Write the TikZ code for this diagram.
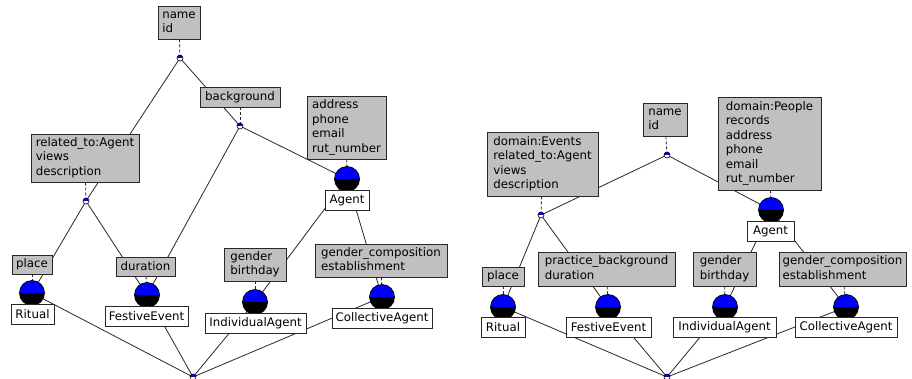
\documentclass[tikz,border=0pt]{standalone}
\usepackage{fontspec}
\newfontfamily\lfont{DejaVu Sans}
\usetikzlibrary{backgrounds}
\definecolor{attrgrey}{RGB}{192,192,192}
\definecolor{edgegrey}{RGB}{40,40,40}
\newcommand\attrlines[1]{\begin{tabular}{@{}l@{}}#1\end{tabular}}
\begin{document}
\begin{tikzpicture}[x=1pt,y=-1pt,
  txt/.style={font={\lfont\fontsize{11.8}{14.5}\selectfont}, text=black},
  attr/.style={txt, draw=edgegrey, fill=attrgrey, line width=0.8pt, inner sep=1pt},
  objl/.style={txt, draw=edgegrey, fill=white, line width=0.8pt, inner sep=1pt, minimum height=20pt},
  bigc/.style={circle, draw=black, line width=0.8pt, minimum size=25pt, inner sep=0pt,
    path picture={\fill[blue] (path picture bounding box.west) rectangle (path picture bounding box.north east);
                  \fill[black] (path picture bounding box.west) rectangle (path picture bounding box.south east);}},
  smallc/.style={circle, draw=black, line width=0.6pt, minimum size=6pt, inner sep=0pt,
    path picture={\fill[blue] (path picture bounding box.west) rectangle (path picture bounding box.north east);
                  \fill[white] (path picture bounding box.west) rectangle (path picture bounding box.south east);}},
  conn/.style={draw=edgegrey, line width=0.8pt},
  dashline/.style={draw=edgegrey, line width=0.8pt, dash pattern=on 3pt off 2pt}
]
\useasboundingbox (0,0) rectangle (912,378);

% ---------------- Left lattice ----------------
\node[smallc] (Ltop) at (180,58) {};
\node[smallc] (Lbgc) at (240,126) {};
\node[smallc] (Lrelc) at (86,201) {};
\node[smallc] (Lbot) at (193,377) {};
\node[bigc] (Lag) at (347,179) {};
\node[bigc] (Lrit) at (32,293) {};
\node[bigc] (Lfe) at (147,295) {};
\node[bigc] (Lia) at (255,302) {};
\node[bigc] (Lca) at (382,297) {};
\node[attr, minimum width=42pt, minimum height=33pt] (Lname) at (179,22.5) {\attrlines{name\\id}};
\node[attr, minimum width=80pt, minimum height=20pt] (Lbg) at (240,97) {background};
\node[attr, minimum width=108pt, minimum height=48pt] (Lrel) at (85,158) {\attrlines{related\_to:Agent\\views\\description}};
\node[attr, minimum width=79pt, minimum height=63pt] (Lagattr) at (346.5,127.5) {\attrlines{address\\phone\\email\\rut\_number}};
\node[attr, minimum width=40pt, minimum height=19pt] (Lplace) at (32,264.5) {place};
\node[attr, minimum width=59pt, minimum height=19pt] (Ldur) at (145.5,266.5) {duration};
\node[attr, minimum width=62pt, minimum height=33pt] (Lgb) at (255,264.5) {\attrlines{gender\\birthday}};
\node[attr, minimum width=132pt, minimum height=33pt] (Lgc) at (381,260.5) {\attrlines{gender\_composition\\establishment}};
\node[objl, minimum width=44pt] (LagL) at (347,200) {Agent};
\node[objl, minimum width=43pt] (LritL) at (32.5,314) {Ritual};
\node[objl, minimum width=83pt] (LfeL) at (146.5,316) {FestiveEvent};
\node[objl, minimum width=101pt] (LiaL) at (255.5,323) {IndividualAgent};
\node[objl, minimum width=100pt] (LcaL) at (382,318) {CollectiveAgent};

% ---------------- Right lattice ----------------
\node[smallc] (Rtop) at (667,155) {};
\node[smallc] (Rrelc) at (541,215) {};
\node[smallc] (Rbot) at (667,377) {};
\node[bigc] (Rag) at (771,210) {};
\node[bigc] (Rrit) at (503,307) {};
\node[bigc] (Rfe) at (608,307) {};
\node[bigc] (Ria) at (725,307) {};
\node[bigc] (Rca) at (846,307) {};
\node[attr, minimum width=44pt, minimum height=33pt] (Rname) at (665,119.5) {\attrlines{name\\id}};
\node[attr, minimum width=111pt, minimum height=64pt] (Rrel) at (542.5,164) {\attrlines{domain:Events\\related\_to:Agent\\views\\description}};
\node[attr, minimum width=103pt, minimum height=93pt] (Ragattr) at (769.5,143.5) {\attrlines{domain:People\\records\\address\\phone\\email\\rut\_number}};
\node[attr, minimum width=42pt, minimum height=19pt] (Rplace) at (503,276.5) {place};
\node[attr, minimum width=137pt, minimum height=34pt] (Rprac) at (606.5,269) {\attrlines{practice\_background\\duration}};
\node[attr, minimum width=63pt, minimum height=34pt] (Rgb) at (724.5,269) {\attrlines{gender\\birthday}};
\node[attr, minimum width=127pt, minimum height=34pt] (Rgc) at (842.5,269) {\attrlines{gender\_composition\\establishment}};
\node[objl, minimum width=47pt] (RagL) at (770.5,231) {Agent};
\node[objl, minimum width=44pt] (RritL) at (503,327) {Ritual};
\node[objl, minimum width=85pt] (RfeL) at (608.5,327) {FestiveEvent};
\node[objl, minimum width=103pt] (RiaL) at (724.5,327) {IndividualAgent};
\node[objl, minimum width=102pt] (RcaL) at (846,327) {CollectiveAgent};

\begin{scope}[on background layer]
  \draw[conn] (Ltop.center) -- (Lrelc.center);
  \draw[conn] (Ltop.center) -- (Lbgc.center);
  \draw[conn] (Lbgc.center) -- (Lag.center);
  \draw[conn] (Lbgc.center) -- (Lfe.center);
  \draw[conn] (Lrelc.center) -- (Lrit.center);
  \draw[conn] (Lrelc.center) -- (Lfe.center);
  \draw[conn] (Lag.center) -- (Lia.center);
  \draw[conn] (Lag.center) -- (Lca.center);
  \draw[conn] (Lbot.center) -- (Lrit.center);
  \draw[conn] (Lbot.center) -- (Lfe.center);
  \draw[conn] (Lbot.center) -- (Lia.center);
  \draw[conn] (Lbot.center) -- (Lca.center);
  \draw[dashline] (Lname) -- (Ltop);
  \draw[dashline] (Lbg) -- (Lbgc);
  \draw[dashline] (Lrel) -- (Lrelc);
  \draw[dashline] (Lagattr) -- (Lag);
  \draw[dashline] (Lplace) -- (Lrit);
  \draw[dashline] (Ldur) -- (Lfe);
  \draw[dashline] (Lgb) -- (Lia);
  \draw[dashline] (Lgc) -- (Lca);
  \draw[conn] (Rtop.center) -- (Rrelc.center);
  \draw[conn] (Rtop.center) -- (Rag.center);
  \draw[conn] (Rrelc.center) -- (Rrit.center);
  \draw[conn] (Rrelc.center) -- (Rfe.center);
  \draw[conn] (Rag.center) -- (Ria.center);
  \draw[conn] (Rag.center) -- (Rca.center);
  \draw[conn] (Rbot.center) -- (Rrit.center);
  \draw[conn] (Rbot.center) -- (Rfe.center);
  \draw[conn] (Rbot.center) -- (Ria.center);
  \draw[conn] (Rbot.center) -- (Rca.center);
  \draw[dashline] (Rname) -- (Rtop);
  \draw[dashline] (Rrel) -- (Rrelc);
  \draw[dashline] (Ragattr) -- (Rag);
  \draw[dashline] (Rplace) -- (Rrit);
  \draw[dashline] (Rprac) -- (Rfe);
  \draw[dashline] (Rgb) -- (Ria);
  \draw[dashline] (Rgc) -- (Rca);
\end{scope}
\end{tikzpicture}
\end{document}
